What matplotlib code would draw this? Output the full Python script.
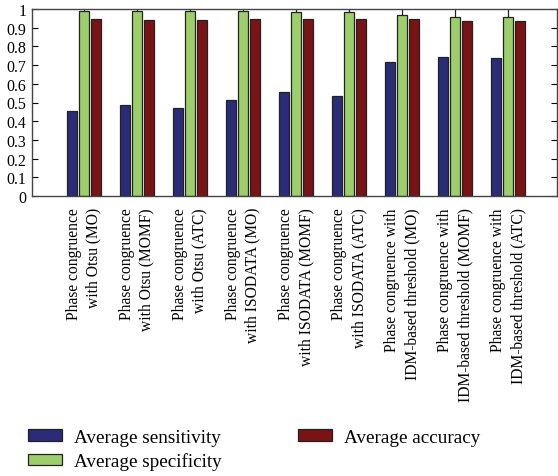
import numpy as np
import matplotlib
matplotlib.use("Agg")
import matplotlib.pyplot as plt

plt.rcParams["font.family"] = ["Liberation Serif", "DejaVu Serif"]

categories = [
    "Phase congruence\nwith Otsu (MO)",
    "Phase congruence\nwith Otsu (MOMF)",
    "Phase congruence\nwith Otsu (ATC)",
    "Phase congruence\nwith ISODATA (MO)",
    "Phase congruence\nwith ISODATA (MOMF)",
    "Phase congruence\nwith ISODATA (ATC)",
    "Phase congruence with\nIDM-based threshold (MO)",
    "Phase congruence with\nIDM-based threshold (MOMF)",
    "Phase congruence with\nIDM-based threshold (ATC)",
]
sensitivity = [0.455, 0.487, 0.472, 0.515, 0.555, 0.533, 0.717, 0.742, 0.738]
specificity = [0.990, 0.987, 0.987, 0.987, 0.984, 0.985, 0.966, 0.955, 0.957]
accuracy = [0.945, 0.943, 0.942, 0.945, 0.945, 0.944, 0.944, 0.937, 0.937]
specificity_err = [0.012, 0.015, 0.015, 0.015, 0.02, 0.02, 0.04, 0.05, 0.05]

fig = plt.figure(figsize=(5.58, 4.77), dpi=100)
ax = fig.add_axes([32 / 558, 1 - 197 / 477, 525 / 558, 187 / 477])

x = np.arange(len(categories))
w = 0.19
step = 0.226
edge = "#222222"

b1 = ax.bar(x - step, sensitivity, width=w, color="#2a2c78", edgecolor=edge, linewidth=0.9, zorder=2,
            label="Average sensitivity")
ax.errorbar(x, specificity, yerr=[np.zeros(len(x)), specificity_err], fmt="none",
            ecolor="#222222", elinewidth=0.9, capsize=0, zorder=1)
b2 = ax.bar(x, specificity, width=w, color="#9ccf6c", edgecolor=edge, linewidth=0.9, zorder=2,
            label="Average specificity")
b3 = ax.bar(x + step, accuracy, width=w, color="#7a1316", edgecolor=edge, linewidth=0.9, zorder=2,
            label="Average accuracy")

ax.set_xlim(-0.98, 8.92)
ax.set_ylim(0, 1)
ax.set_yticks(np.arange(0, 1.01, 0.1))
ax.set_yticklabels(["0", "0.1", "0.2", "0.3", "0.4", "0.5", "0.6", "0.7", "0.8", "0.9", "1"])
ax.tick_params(axis="y", direction="in", right=True, length=4, labelsize=11.5, pad=4)
ax.tick_params(axis="x", length=0, labelsize=11.2, pad=8)
ax.set_xticks(x)
ax.set_xticklabels(categories, rotation=90, ha="center", va="top", multialignment="right",
                   linespacing=1.3)

for s in ax.spines.values():
    s.set_color("#444444")
    s.set_linewidth(1.0)

fig.legend(handles=[b1, b2, b3], loc="upper left", bbox_to_anchor=(28 / 558, 1 - 430 / 477),
           ncol=2, frameon=False, fontsize=13.8, handlelength=1.77, handleheight=0.55,
           columnspacing=3.95, labelspacing=0.33, handletextpad=0.65,
           borderpad=0, borderaxespad=0)

fig.savefig("out.png", dpi=100)
